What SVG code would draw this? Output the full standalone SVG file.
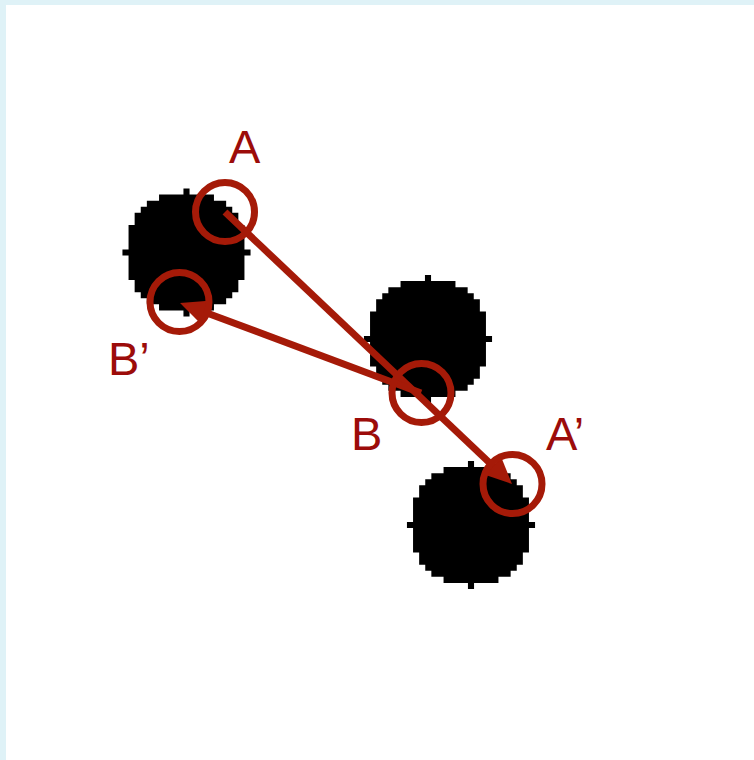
<svg xmlns="http://www.w3.org/2000/svg" xmlns:xlink="http://www.w3.org/1999/xlink" width="754" height="760" viewBox="0 0 754 760">
<style>
.ring{fill:none;stroke:#A51A08;stroke-width:7}
.lbl{font-family:"Liberation Sans",Arial,sans-serif;font-size:47px;fill:#9C0C0A}
.conn{fill:none;stroke:#A51A08;stroke-width:7;stroke-linecap:butt}
</style>
<defs>
<path id="blob" fill="#000" d="M-0.5,-10.5 H0.5 V-9.5 H4.5 V-8.5 H6.5 V-7.5 H7.5 V-6.5 H8.5 V-4.5 H9.5 V-0.5 H10.5 V0.5 H9.5 V4.5 H8.5 V6.5 H7.5 V7.5 H6.5 V8.5 H4.5 V9.5 H0.5 V10.5 H-0.5 V9.5 H-4.5 V8.5 H-6.5 V7.5 H-7.5 V6.5 H-8.5 V4.5 H-9.5 V0.5 H-10.5 V-0.5 H-9.5 V-4.5 H-8.5 V-6.5 H-7.5 V-7.5 H-6.5 V-8.5 H-4.5 V-9.5 H-0.5 Z"/>
<marker id="head" markerUnits="userSpaceOnUse" viewBox="0 0 26 24" refX="11" refY="12" markerWidth="26" markerHeight="24" orient="auto" overflow="visible">
<path d="M0,0 L26,12 L0,24 Z" fill="#A51A08"/>
</marker>
</defs>
<rect x="0" y="0" width="754" height="760" fill="#DFF2F7"/>
<rect x="6" y="5" width="748" height="755" fill="#FFFFFF"/>
<g id="blob1"><use xlink:href="#blob" href="#blob" transform="translate(186.5,252.5) scale(6.1)"/></g>
<g id="blob2"><use xlink:href="#blob" href="#blob" transform="translate(428,339) scale(6.1)"/></g>
<g id="blob3"><use xlink:href="#blob" href="#blob" transform="translate(471,525) scale(6.1)"/></g>
<g id="connectors">
<path class="conn" d="M225,212 L501.1,473.7" marker-end="url(#head)"/>
<path class="conn" d="M421,393 L194.1,308.2" marker-end="url(#head)"/>
</g>
<g id="nodeA"><circle class="ring" cx="225" cy="212" r="29.5"/><text class="lbl" x="229" y="163">A</text></g>
<g id="nodeBp"><circle class="ring" cx="179.5" cy="302" r="29.5"/><text class="lbl" x="108" y="375">B’</text></g>
<g id="nodeB"><circle class="ring" cx="421.5" cy="393" r="29.5"/><text class="lbl" x="351" y="450">B</text></g>
<g id="nodeAp"><circle class="ring" cx="512.5" cy="484" r="29.5"/><text class="lbl" x="546" y="450">A’</text></g>
</svg>
